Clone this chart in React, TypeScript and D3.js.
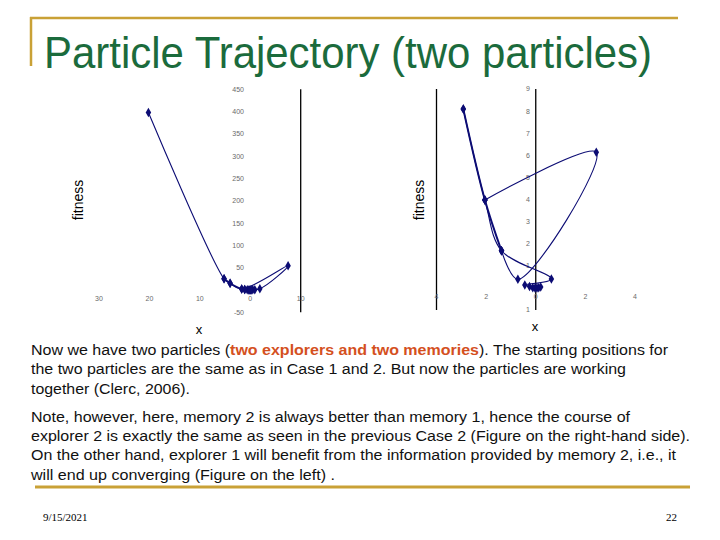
import React from 'react';
import * as d3 from 'd3';

// ---------- data ----------
const leftXTicks = [-30, -20, -10, 0, 10];
const leftXTickLabels = ['30', '20', '10', '0', '10'];
const leftYTicks = [450, 400, 350, 300, 250, 200, 150, 100, 50, -50];
const leftYTickLabels = ['450', '400', '350', '300', '250', '200', '150', '100', '50', '-50'];

const rightXTicks = [-4, -2, 0, 2, 4];
const rightXTickLabels = ['4', '2', '0', '2', '4'];
const rightYTicks = [9, 8, 7, 6, 5, 4, 3, 2, 1, -1];
const rightYTickLabels = ['9', '8', '7', '6', '5', '4', '3', '2', '1', '1'];

// left chart: explorer 1 trajectory (x, fitness)
const leftExplorerX = [-20.2, -5.2, -4.0, -1.7, 7.5, 1.9, -1.1, 0.9, -0.6, 0.5, -0.3, 0.2, -0.1, 0.05];
const leftExplorerF = [398, 25.3, 15, 2.2, 54.5, 3, 1.2, 0.8, 0.4, 0.3, 0.1, 0.05, 0, 0];
const leftMemoryX = [-5.2, -4.0, -1.7, -1.1];
const leftMemoryF = [25.3, 15, 2.2, 1.2];

// right chart: explorer 2 trajectory (x, fitness), drawn as pieces
const rightExplorerX = [-2.92, -2.05, -1.38, 0.63, -0.44, 0.2, -0.25, 0.12, -0.12, 0.05, -0.03];
const rightExplorerF = [8.09, 3.98, 1.68, 0.4, 0.13, 0.04, 0.06, 0.01, 0.01, 0, 0];
const rightLoopX = [-2.05, 2.44, -0.72, -1.38];
const rightLoopF = [3.98, 6.14, 0.39, 1.68];
const rightMemoryX = [-2.92, -2.05, -1.38];
const rightMemoryF = [8.09, 3.98, 1.68];

const titleText = 'Particle Trajectory (two particles)';
const para1 = [
  { parts: [['Now we have two particles (', false], ['two explorers and two memories', true], ['). The starting positions for', false]], end: 668 },
  { parts: [['the two particles are the same as in Case 1 and 2. But now the particles are working', false]], end: 626 },
  { parts: [['together (Clerc, 2006).', false]], end: 190 },
];
const para2 = [
  { parts: [['Note, however, here, memory 2 is always better than memory 1, hence the course of', false]], end: 630 },
  { parts: [['explorer 2 is exactly the same as seen in the previous Case 2 (Figure on the right-hand side).', false]], end: 690 },
  { parts: [['On the other hand, explorer 1 will benefit from the information provided by memory 2, i.e., it', false]], end: 676 },
  { parts: [['will end up converging (Figure on the left) .', false]], end: 335 },
];
const footerDate = '9/15/2021';
const footerPage = '22';

// ---------- styling ----------
const GOLD = '#C9A136';
const GREEN = '#1B6B3C';
const NAVY = '#0C0C74';
const ORANGE = '#D4501E';
const TICK = '#6a6a6a';

type Pt = [number, number];
const zip = (xs: number[], fs: number[]): Pt[] => xs.map((x, i) => [x, fs[i]]);

function Chart({ xs, ys, series, xTicks, xLabels, yTicks, yLabels, vLines, yLabelX, xLabelY }: any) {
  const line = d3.line<Pt>().x(d => xs(d[0])).y(d => ys(d[1])).curve(d3.curveCatmullRom.alpha(0.5));
  const sym = d3.symbol().type(d3.symbolDiamond).size(26)();
  const [y0, y1] = ys.domain();
  return (
    <g>
      {vLines.map((v: number, i: number) => (
        <line key={'v' + i} x1={xs(v)} x2={xs(v)} y1={ys(y1)} y2={ys(y0)} stroke="#000" strokeWidth={1.3} />
      ))}
      {xTicks.map((t: number, i: number) => (
        <text key={'xt' + i} x={xs(t)} y={xLabelY} fontSize={7} fill={TICK} textAnchor="middle" fontFamily="Liberation Sans, Arial, sans-serif">{xLabels[i]}</text>
      ))}
      {yTicks.map((t: number, i: number) => (
        <text key={'yt' + i} x={yLabelX} y={ys(t)} dy="0.35em" fontSize={7} fill={TICK} textAnchor="end" fontFamily="Liberation Sans, Arial, sans-serif">{yLabels[i]}</text>
      ))}
      {series.map((s: any, i: number) => (
        <path key={'s' + i} d={line(s.pts) || ''} fill="none" stroke={NAVY} strokeWidth={s.w} />
      ))}
      {series.map((s: any, i: number) => s.pts.map((d: Pt, j: number) => (
        <path key={'m' + i + '-' + j} d={sym || ''} transform={`translate(${xs(d[0])},${ys(d[1])})`} fill={NAVY} />
      )))}
    </g>
  );
}

export default function App() {
  const lx = d3.scaleLinear().domain([-30, 10]).range([99, 300.7]);
  const ly = d3.scaleLinear().domain([-50, 450]).range([312.3, 89.3]);
  const rx = d3.scaleLinear().domain([-4, 4]).range([436.5, 635]);
  const ry = d3.scaleLinear().domain([-1, 9]).range([310, 89]);

  const font = 'Liberation Sans, Arial, sans-serif';
  const renderLines = (lines: any[], startY: number) =>
    lines.map((ln, i) => (
      <text key={i} x={31} y={startY + i * 19.4} fontSize={15.5} fontFamily={font} fill="#111"
        textLength={ln.end - 31} lengthAdjust="spacingAndGlyphs">
        {ln.parts.map((p: any, j: number) => (
          <tspan key={j} fill={p[1] ? ORANGE : '#111'} fontWeight={p[1] ? 'bold' : 'normal'}>{p[0]}</tspan>
        ))}
      </text>
    ));

  const leftSeries = [
    { pts: zip(leftExplorerX, leftExplorerF), w: 1.1 },
    { pts: zip(leftMemoryX, leftMemoryF), w: 1.8 },
  ];
  const rightSeries = [
    { pts: zip(rightExplorerX, rightExplorerF), w: 1.1 },
    { pts: zip(rightLoopX, rightLoopF), w: 1.1 },
    { pts: zip(rightMemoryX, rightMemoryF), w: 2 },
  ];

  return (
    <svg width={720} height={540} style={{ position: 'absolute', left: 0, top: 0, background: '#fff' }}>
      <rect width={720} height={540} fill="#fff" />
      <line x1={30} x2={678} y1={18} y2={18} stroke={GOLD} strokeWidth={2.5} />
      <line x1={31} x2={31} y1={17} y2={66} stroke={GOLD} strokeWidth={2.5} />
      <line x1={35} x2={690} y1={487} y2={487} stroke={GOLD} strokeWidth={3} />

      <text x={44} y={68} fontSize={44} fontFamily={font} fill={GREEN} textLength={608} lengthAdjust="spacingAndGlyphs">{titleText}</text>

      <Chart xs={lx} ys={ly} series={leftSeries}
        xTicks={leftXTicks} xLabels={leftXTickLabels} yTicks={leftYTicks} yLabels={leftYTickLabels}
        vLines={[10]} yLabelX={244} xLabelY={300.5} />
      <Chart xs={rx} ys={ry} series={rightSeries}
        xTicks={rightXTicks} xLabels={rightXTickLabels} yTicks={rightYTicks} yLabels={rightYTickLabels}
        vLines={[-4, 0]} yLabelX={530} xLabelY={298.5} />

      <text transform="translate(83,200) rotate(-90)" textAnchor="middle" fontSize={14} fontFamily={font} fill="#000">fitness</text>
      <text transform="translate(424,200) rotate(-90)" textAnchor="middle" fontSize={14} fontFamily={font} fill="#000">fitness</text>
      <text x={199} y={334} textAnchor="middle" fontSize={13} fontFamily={font} fill="#000">x</text>
      <text x={535} y={331} textAnchor="middle" fontSize={13} fontFamily={font} fill="#000">x</text>

      {renderLines(para1, 355)}
      {renderLines(para2, 421.5)}

      <text x={43} y={521} fontSize={11} fontFamily="Liberation Serif, Times New Roman, serif" fill="#000">{footerDate}</text>
      <text x={677} y={521} fontSize={11} textAnchor="end" fontFamily="Liberation Serif, Times New Roman, serif" fill="#000">{footerPage}</text>
    </svg>
  );
}
